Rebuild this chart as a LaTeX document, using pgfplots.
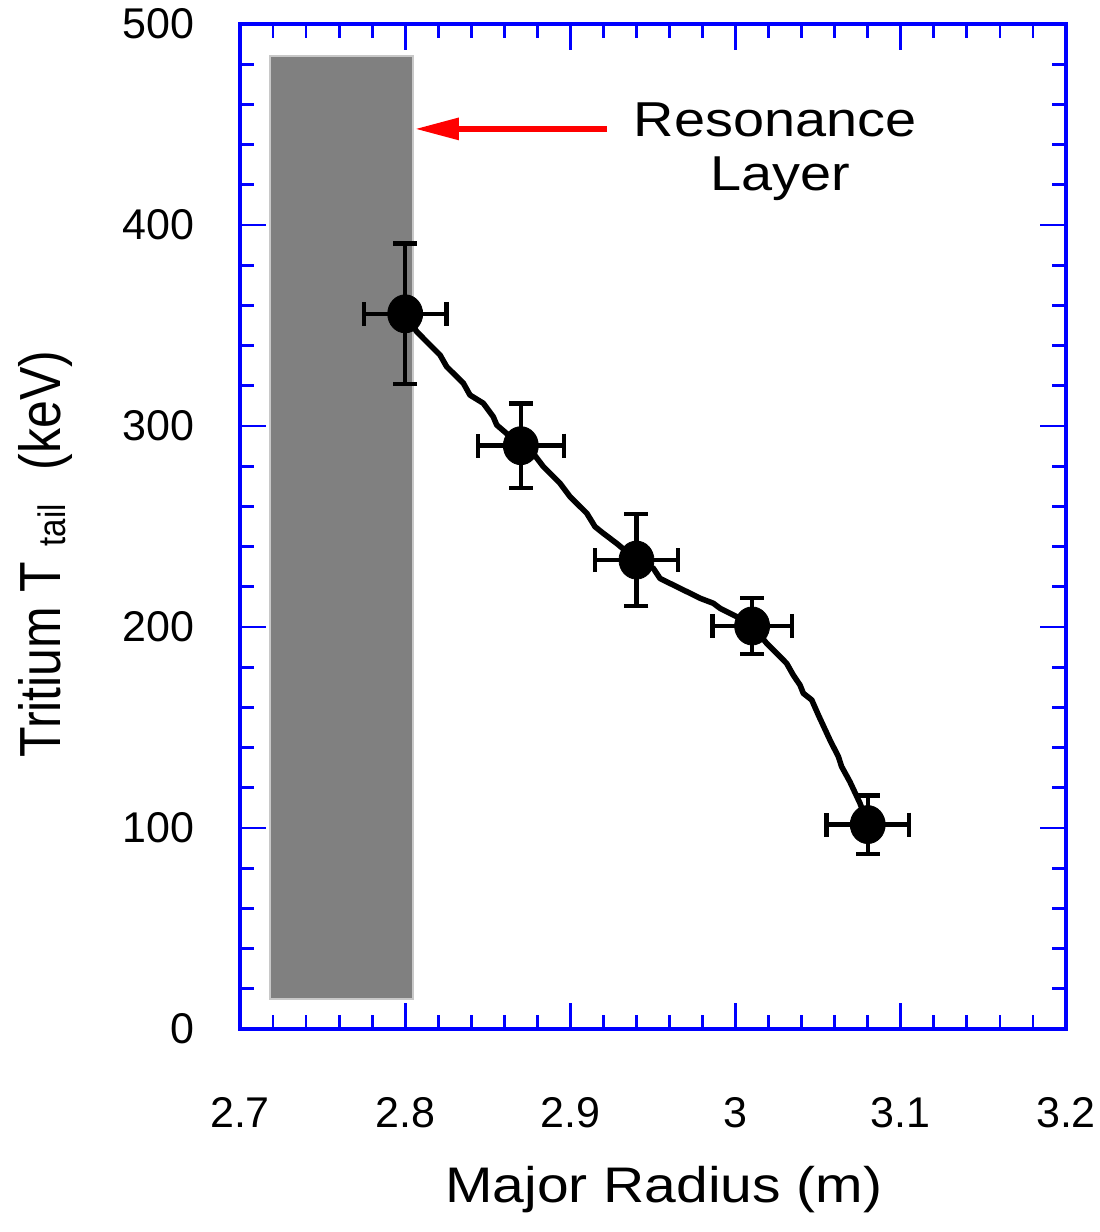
\documentclass[border=0pt]{standalone}
\usepackage{pgfplots}
\pgfplotsset{compat=1.18}
\usepackage{pgfplotstable}
\usepackage{graphicx}
\usepackage{fontspec}
\setmainfont{Liberation Sans}
\newfontfamily\widefont{Liberation Sans}[FakeStretch=1.14]
\usetikzlibrary{arrows.meta}

\pgfplotstableread{
x y ex ey
2.80 355.8 0.025 35
2.87 290.2 0.026 21
2.94 233.3 0.025 23
3.01 200.5 0.024 14
3.08 101.7 0.025 14.5
}\datatable

\begin{document}
\begin{tikzpicture}
\begin{axis}[
  scale only axis, width=413pt, height=502.5pt,
  xmin=2.7, xmax=3.2, ymin=0, ymax=500,
  xtick={2.7,2.8,2.9,3,3.1,3.2},
  ytick={0,100,200,300,400,500},
  minor x tick num=4, minor y tick num=4,
  axis line style={blue, line width=1.8pt},
  tick style={blue, line width=1.4pt},
  major tick length=13pt, minor tick length=7pt,
  tick align=inside,
  /pgf/number format/assume math mode=true,
  ticklabel style={font=\fontsize{21.5}{24}\selectfont},
  xticklabel style={anchor=base, yshift=-49pt},
  yticklabel style={anchor=east, inner sep=0pt, xshift=-22.5pt},
  xlabel={\widefont Major Radius (m)},
  xlabel style={at={(axis description cs:0.513,-0.1731)}, anchor=base, font=\fontsize{25}{30}\selectfont},
  ylabel={\scalebox{1}[1.16]{Tritium T\hspace{8pt}\raisebox{-2.5pt}{\fontsize{16.5}{18}\selectfont tail}\hspace{17pt}(keV)}},
  ylabel style={at={(axis description cs:-0.2179,0.4726)}, anchor=base, font=\fontsize{25}{30}\selectfont},
  clip=false,
]
\coordinate (SW) at (rel axis cs:0,0);
\coordinate (NE) at (rel axis cs:1,1);

% resonance layer
\addplot[fill={rgb,255:red,128;green,128;blue,128}, draw={rgb,255:red,200;green,200;blue,200}, line width=1pt]
  coordinates {(2.718,15) (2.805,15) (2.805,484) (2.718,484)} -- cycle;

% arrow
\addplot[red, line width=3pt, -{Triangle[length=22pt,width=10.5pt]}]
  coordinates {(2.9222,447.8) (2.8059,447.8)};

\node[anchor=base, font=\widefont\fontsize{24.5}{28}\selectfont] at (axis cs:3.024,443.9) {Resonance};
\node[anchor=base, font=\widefont\fontsize{24.5}{28}\selectfont] at (axis cs:3.027,417.4) {Layer};

% curve
\addplot[black, line width=2.8pt, line join=round] coordinates {
(2.80,355.8) (2.8070,346.9) (2.8211,335.3) (2.8251,329.5) (2.8352,321.3) (2.8392,315.4)
(2.8473,311.3) (2.8533,304.6) (2.8554,300.5) (2.87,290.2)
(2.8775,286.4) (2.8836,279.8) (2.8937,271.5) (2.8998,264.8) (2.9099,256.6) (2.9149,249.9)
(2.9199,246.6) (2.9280,241.6) (2.94,233.3)
(2.9502,229.2) (2.9542,224.2) (2.9583,222.5) (2.9724,216.8) (2.9785,214.3) (2.9865,211.8)
(2.9906,209.3) (3.0007,205.1) (3.01,200.5)
(3.0188,191.9) (3.0309,181.9) (3.0349,176.1) (3.0390,171.1) (3.0410,167.0) (3.0461,163.7)
(3.0501,156.2) (3.0571,143.8) (3.0622,135.5) (3.0642,130.5) (3.0692,123.0) (3.0753,112.3)
(3.08,101.7)
};

% data with error bars
\addplot[only marks, mark=*, mark size=9.5pt, mark options={black, fill=black, xscale=0.92},
  error bars/.cd, x dir=both, x explicit, y dir=both, y explicit,
  error bar style={line width=2.2pt, black},
  error mark options={rotate=90, black, mark size=6pt, line width=2.2pt}]
  table[x=x, y=y, x error=ex, y error=ey]{\datatable};
\end{axis}
\pgfresetboundingbox
\path ([shift={(-120pt,-101.5pt)}]SW) rectangle ([shift={(16.5pt,12pt)}]NE);
\end{tikzpicture}
\end{document}
